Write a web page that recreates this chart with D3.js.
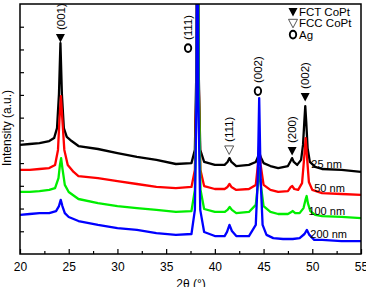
<!DOCTYPE html>
<html>
<head>
<meta charset="utf-8">
<script src="https://cdn.jsdelivr.net/npm/d3@7"></script>
<style>
  body { margin: 0; background: #fff; }
  text { font-family: "Liberation Sans", Arial, sans-serif; }
</style>
</head>
<body>
<div id="chart"></div>
<script>
// chart size and plot margins
const width = 366,
      height = 287,
      margin = {top: 4, bottom: 33, left: 20, right: 5};

// x ticks
const xTicks = [20, 25, 30, 35, 40, 45, 50, 55];
const xMinor = [22.5, 27.5, 32.5, 37.5, 42.5, 47.5, 52.5];
const yTicks = [100, 200, 300, 400, 500, 600, 700, 800, 900, 1000];

// XRD patterns, [2theta, intensity]
const film25 = [
  [20.0, 480], [21.0, 484], [22.0, 488], [23.0, 497], [23.5, 510], [23.8, 554],
  [24.0, 704], [24.15, 928], [24.3, 704], [24.5, 554], [24.8, 515], [25.3, 497],
  [26.0, 475], [28.0, 462], [30.0, 444], [32.0, 427], [34.0, 414], [36.0, 396],
  [37.6, 400], [37.95, 458], [38.12, 854], [38.22, 2000], [38.32, 854], [38.5, 458],
  [38.9, 405], [40.0, 392], [41.0, 392], [41.3, 405], [41.5, 422], [41.7, 405],
  [42.2, 387], [43.5, 392], [44.2, 405], [44.42, 427], [44.55, 449], [44.7, 427],
  [45.0, 400], [45.7, 387], [46.5, 378], [47.5, 387], [47.78, 409], [47.93, 422],
  [48.1, 405], [48.45, 392], [48.85, 414], [49.05, 480], [49.18, 581], [49.28, 651],
  [49.38, 581], [49.52, 466], [49.75, 405], [50.3, 383], [51.0, 374], [53.0, 370],
  [55.0, 361]
];
const film50 = [
  [20.0, 370], [21.0, 370], [22.0, 374], [23.0, 378], [23.6, 392], [23.9, 458],
  [24.05, 590], [24.2, 695], [24.35, 590], [24.55, 458], [24.9, 392], [25.5, 361],
  [26.0, 343], [28.0, 334], [30.0, 321], [32.0, 308], [34.0, 295], [36.0, 290],
  [37.6, 295], [37.95, 370], [38.12, 766], [38.23, 2000], [38.34, 766], [38.52, 370],
  [38.9, 299], [40.0, 286], [41.0, 286], [41.3, 295], [41.5, 308], [41.7, 295],
  [42.2, 282], [43.5, 286], [44.2, 304], [44.42, 392], [44.55, 480], [44.7, 392],
  [45.0, 304], [45.7, 282], [46.5, 273], [47.5, 277], [47.8, 295], [47.95, 299],
  [48.15, 286], [48.55, 282], [48.95, 312], [49.15, 414], [49.32, 510], [49.48, 414],
  [49.65, 317], [50.0, 282], [51.0, 268], [53.0, 264], [55.0, 260]
];
const film100 = [
  [20.0, 273], [21.0, 273], [22.0, 277], [23.0, 282], [23.6, 290], [23.95, 334],
  [24.1, 392], [24.22, 422], [24.35, 378], [24.6, 304], [25.0, 273], [26.0, 242],
  [28.0, 224], [30.0, 211], [32.0, 202], [34.0, 194], [36.0, 185], [37.6, 189],
  [37.95, 282], [38.13, 722], [38.24, 2000], [38.35, 722], [38.53, 282], [38.9, 198],
  [40.0, 185], [41.0, 185], [41.3, 194], [41.52, 207], [41.75, 194], [42.2, 180],
  [43.5, 185], [44.2, 216], [44.42, 304], [44.57, 378], [44.72, 304], [45.0, 211],
  [45.7, 185], [46.5, 176], [47.5, 176], [47.85, 185], [48.0, 189], [48.25, 180],
  [48.7, 180], [49.1, 202], [49.3, 238], [49.42, 255], [49.55, 224], [49.8, 189],
  [50.3, 172], [51.0, 167], [53.0, 163], [55.0, 158]
];
const film200 = [
  [20.0, 172], [21.0, 176], [22.0, 180], [23.0, 180], [23.7, 189], [24.0, 211],
  [24.18, 238], [24.35, 211], [24.6, 180], [25.0, 163], [26.0, 145], [28.0, 128],
  [30.0, 114], [32.0, 106], [34.0, 92], [36.0, 84], [37.6, 88], [37.95, 194],
  [38.11, 678], [38.21, 2000], [38.31, 678], [38.5, 194], [38.9, 97], [40.0, 79],
  [41.0, 79], [41.25, 97], [41.5, 128], [41.75, 101], [42.2, 79], [43.5, 79],
  [44.2, 128], [44.4, 326], [44.55, 686], [44.7, 326], [44.9, 128], [45.3, 84],
  [46.0, 70], [47.0, 66], [48.0, 66], [48.7, 70], [49.2, 88], [49.45, 106],
  [49.7, 84], [50.2, 62], [51.0, 62], [53.0, 57], [55.0, 57]
];

const seriesNames = ["25 nm", "50 nm", "100 nm", "200 nm"];
const seriesData = [film25, film50, film100, film200];
const seriesColors = ["#000000", "#ff0000", "#00ee00", "#0000ff"];
// where each thickness label sits: [2theta, intensity]
const seriesLabelPos = [[49.9, 396], [50.2, 290], [49.6, 190], [49.8, 88]];

// peak markers: phase, 2theta, intensity of marker, hkl label
const peakPhase = ["fct", "ag", "fcc", "ag", "fct", "fct"];
const peakPos = [24.15, 37.25, 41.47, 44.42, 47.93, 49.27];
const peakMark = [950, 906, 458, 717, 453, 691];
const peakHkl = ["(001)", "(111)", "(111)", "(002)", "(200)", "(002)"];

const legendPhase = ["fct", "fcc", "ag"];
const legendText = ["FCT CoPt", "FCC CoPt", "Ag"];

const svg = d3.select("#chart")
  .append("svg")
  .attr("width", width)
  .attr("height", height);

const xScale = d3.scaleLinear()
  .domain([20, 55])
  .range([margin.left, width - margin.right]);

const yScale = d3.scaleLinear()
  .domain([0, 1100])
  .range([height - margin.bottom, margin.top]);

svg.append("clipPath")
  .attr("id", "plotclip")
  .append("rect")
  .attr("x", margin.left)
  .attr("y", margin.top)
  .attr("width", width - margin.left - margin.right)
  .attr("height", height - margin.top - margin.bottom);

// curves
const line = d3.line()
  .x(d => xScale(d[0]))
  .y(d => yScale(d[1]));

svg.append("g")
  .attr("clip-path", "url(#plotclip)")
  .selectAll("path")
  .data(seriesData)
  .enter()
  .append("path")
  .attr("fill", "none")
  .attr("stroke", (d, i) => seriesColors[i])
  .attr("stroke-width", 2.3)
  .attr("stroke-linejoin", "round")
  .attr("d", line);

// axes, ticks pointing in
const xAxis = svg.append("g")
  .attr("transform", "translate(0," + (height - margin.bottom) + ")")
  .call(d3.axisBottom(xScale).tickValues(xTicks).tickSize(-5).tickPadding(8).tickFormat(d3.format("d")));

svg.append("g")
  .attr("transform", "translate(0," + (height - margin.bottom) + ")")
  .call(d3.axisBottom(xScale).tickValues(xMinor).tickSize(-3).tickFormat(""));

const yAxis = svg.append("g")
  .attr("transform", "translate(" + margin.left + ",0)")
  .call(d3.axisLeft(yScale).tickValues(yTicks).tickSize(-4).tickFormat(""));

svg.selectAll(".domain").remove();
svg.selectAll(".tick line").attr("stroke", "#000").attr("stroke-width", 1.2);
xAxis.selectAll("text")
  .attr("font-size", 12)
  .attr("font-family", "Liberation Sans, Arial, sans-serif")
  .attr("fill", "#000");

// frame
svg.append("rect")
  .attr("x", margin.left)
  .attr("y", margin.top)
  .attr("width", width - margin.left - margin.right)
  .attr("height", height - margin.top - margin.bottom)
  .attr("fill", "none")
  .attr("stroke", "#000")
  .attr("stroke-width", 1.5);

// axis titles
svg.append("text")
  .attr("x", 191)
  .attr("y", 288)
  .attr("text-anchor", "middle")
  .attr("font-size", 12)
  .text("2θ (°)");

svg.append("text")
  .attr("transform", "translate(11,128) rotate(-90)")
  .attr("text-anchor", "middle")
  .attr("font-size", 12)
  .text("Intensity (a.u.)");

// marker drawing
function drawMarker(g, kind, cx, cy) {
  if (kind === "fct") {
    g.append("path")
      .attr("d", `M${cx - 4.5},${cy - 4}L${cx + 4.5},${cy - 4}L${cx},${cy + 4.5}Z`)
      .attr("fill", "#000");
  } else if (kind === "fcc") {
    g.append("path")
      .attr("d", `M${cx - 4.5},${cy - 4}L${cx + 4.5},${cy - 4}L${cx},${cy + 4.5}Z`)
      .attr("fill", "none")
      .attr("stroke", "#444")
      .attr("stroke-width", 0.9);
  } else {
    g.append("ellipse")
      .attr("cx", cx)
      .attr("cy", cy)
      .attr("rx", 3.2)
      .attr("ry", 3.9)
      .attr("fill", "none")
      .attr("stroke", "#000")
      .attr("stroke-width", 1.9);
  }
}

const notes = svg.append("g");
peakPos.forEach((p, i) => {
  const cx = xScale(p), cy = yScale(peakMark[i]);
  drawMarker(notes, peakPhase[i], cx, cy);
  notes.append("text")
    .attr("transform", "translate(" + cx + "," + (cy - 8) + ") rotate(-90)")
    .attr("dy", "0.36em")
    .attr("font-size", 11.5)
    .text(peakHkl[i]);
});

// thickness labels
svg.selectAll(".slabel")
  .data(seriesNames)
  .enter()
  .append("text")
  .attr("class", "slabel")
  .attr("x", (d, i) => xScale(seriesLabelPos[i][0]))
  .attr("y", (d, i) => yScale(seriesLabelPos[i][1]))
  .attr("dy", "0.35em")
  .attr("font-size", 11)
  .text(d => d);

// legend
const legend = svg.selectAll(".legend")
  .data(legendText)
  .enter()
  .append("g")
  .attr("class", "legend")
  .attr("transform", (d, i) => "translate(293," + (12 + i * 11.3) + ")");

legend.each(function(d, i) { drawMarker(d3.select(this), legendPhase[i], 0, 0); });

legend.append("text")
  .attr("x", 6)
  .attr("y", 0)
  .attr("dy", "0.36em")
  .attr("font-size", 11.5)
  .text(d => d);
</script>
</body>
</html>
